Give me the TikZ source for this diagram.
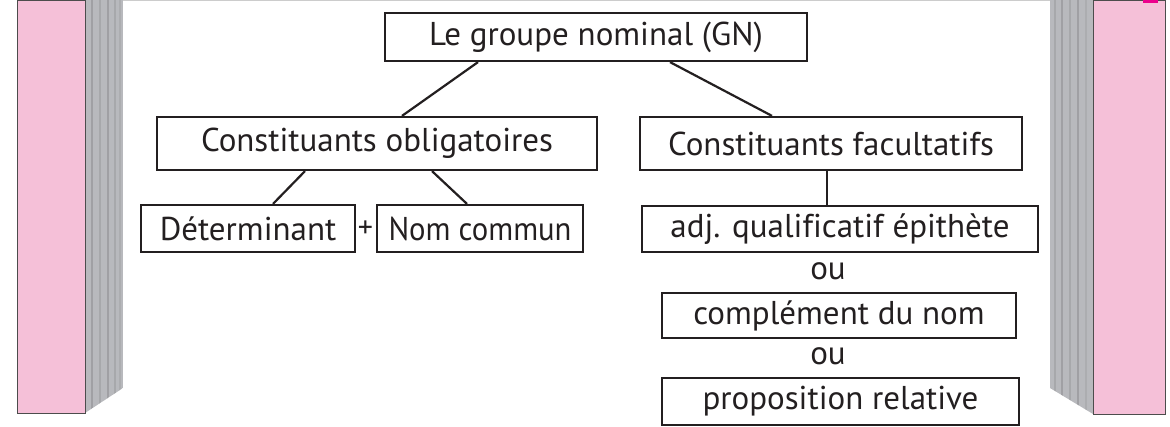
\documentclass[tikz,border=0pt]{standalone}
\usepackage{fontspec}
\usepackage{graphicx}
\setmainfont[Ligatures=NoCommon]{PT Sans}
\definecolor{bookpink}{HTML}{F5C0D8}
\definecolor{bookgray}{HTML}{B8B9BD}
\definecolor{inkgray}{HTML}{231F20}
\tikzset{
  gnbox/.style={draw=inkgray, line width=2.2pt, inner sep=0pt, text=inkgray,
    font=\fontsize{33}{36}\selectfont},
  gnword/.style={text=inkgray, inner sep=0pt, font=\fontsize{33}{36}\selectfont},
  gnline/.style={draw=inkgray, line width=2.2pt}
}
\begin{document}
\begin{tikzpicture}[x=1pt,y=-1pt]
                \useasboundingbox (0,0) rectangle (1170,426);
                \draw[gray!40, line width=1.5pt] (123,0.5) -- (1050,0.5);

                % left book
                \begin{scope}
                  \clip (85,0) -- (123,0) -- (123,388) -- (85,413) -- cycle;
                  \fill[bookgray] (85,0) rectangle (123,413);
                  \foreach \x/\s in {92/75,100/60,108/75,115/60,120/50}
                    \draw[black!\s, line width=2pt, opacity=0.2] (\x,0) -- (\x,413);
                \end{scope}
                \filldraw[fill=bookpink, draw=black!70, line width=0.8pt] (17,0) rectangle (85,413);

                % right book
                \begin{scope}
                  \clip (1050,0) -- (1093,0) -- (1093,414) -- (1050,388) -- cycle;
                  \fill[bookgray] (1050,0) rectangle (1093,414);
                  \foreach \x/\s in {1055/60,1062/75,1070/60,1078/75,1086/50}
                    \draw[black!\s, line width=2pt, opacity=0.2] (\x,0) -- (\x,414);
                \end{scope}
                \filldraw[fill=bookpink, draw=black!70, line width=0.8pt] (1093,0) rectangle (1165,414);
                \fill[magenta] (1143,0) rectangle (1158,3);

                \node[gnbox, minimum width=422pt, minimum height=48pt] (gn) at (596,37) {Le groupe nominal (GN)};
                \node[gnbox, minimum width=440pt, minimum height=53pt] (oblig) at (377,143.5) {Constituants obligatoires};
                \node[gnbox, minimum width=382pt, minimum height=53pt] (facul) at (831,143.5) {Constituants facultatifs};
                \node[gnbox, minimum width=214pt, minimum height=47pt] (det) at (248,228.5) {Déterminant};
                \node[gnword, font=\fontsize{30}{32}\selectfont] (plus) at (365.5,229) {+};
                \node[gnbox, minimum width=206pt, minimum height=47pt] (nom) at (480,228.5) {\scalebox{0.93}[1]{Nom commun}};
                \node[gnbox, minimum width=396pt, minimum height=46pt] (adj) at (840,229) {adj. qualificatif épithète};
                \node[gnword] (ou1) at (828,271) {ou};
                \node[gnbox, minimum width=354pt, minimum height=45pt] (compl) at (839,315.5) {complément du nom};
                \node[gnword] (ou2) at (828,356) {ou};
                \node[gnbox, minimum width=357pt, minimum height=47pt] (prop) at (840.5,401.5) {proposition relative};

                \draw[gnline] ([xshift=-118pt]gn.south) -- ([xshift=25pt]oblig.north);
                \draw[gnline] ([xshift=74pt]gn.south) -- ([xshift=-59pt]facul.north);
                \draw[gnline] ([xshift=-72pt]oblig.south) -- ([xshift=25pt]det.north);
                \draw[gnline] ([xshift=55pt]oblig.south) -- ([xshift=-13pt]nom.north);
                \draw[gnline] ([xshift=-4pt]facul.south) -- ([xshift=-4pt]facul.south |- adj.north);
            \end{tikzpicture}
\end{document}
